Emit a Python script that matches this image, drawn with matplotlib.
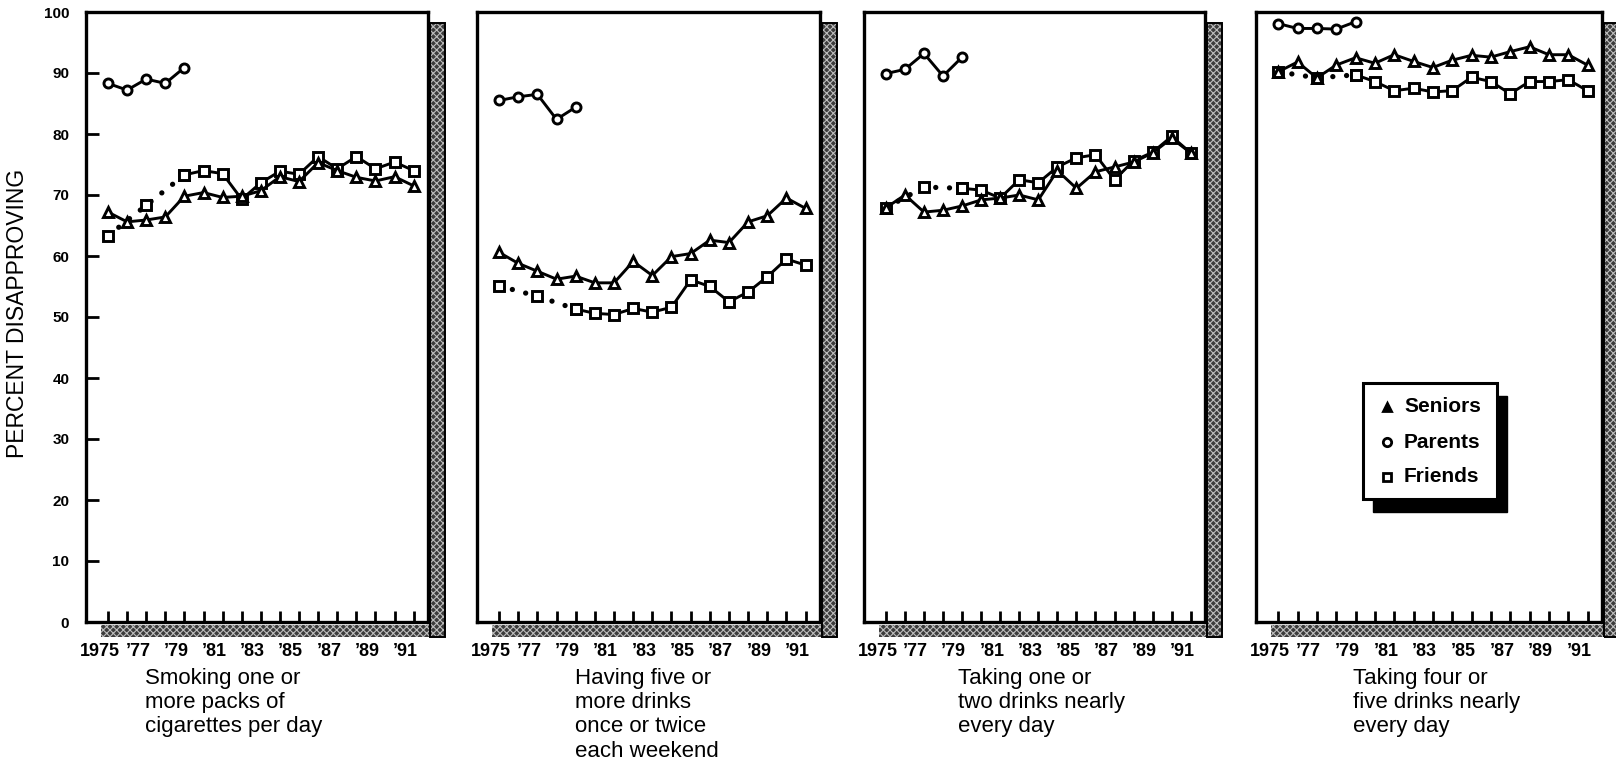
import numpy as np
import matplotlib
matplotlib.use("Agg")
import matplotlib.pyplot as plt
from matplotlib.patches import Rectangle
from matplotlib.lines import Line2D

plt.rcParams['font.family'] = ['Liberation Sans', 'DejaVu Sans']
plt.rcParams['hatch.linewidth'] = 0.8

nan = np.nan
years = list(range(1975, 1992))
parent_years = years[:5]
label_years = list(range(1975, 1992, 2))
year_labels = ['1975', '\u201977', '\u201979', '\u201981', '\u201983',
               '\u201985', '\u201987', '\u201989', '\u201991']

# Smoking one or more packs of cigarettes per day
smoke_seniors = [67.2, 65.6, 65.9, 66.4, 69.8, 70.4, 69.6, 69.8, 70.7, 73.0,
                 72.2, 75.3, 74.0, 72.9, 72.3, 73.0, 71.5]
smoke_parents = [88.3, 87.2, 89.0, 88.3, 90.9]
smoke_friends = [63.3, nan, 68.3, nan, 73.3, 74.0, 73.5, 69.3, 72.0, 73.9,
                 73.4, 76.3, 74.3, 76.3, 74.3, 75.4, 74.0]

# Having five or more drinks once or twice each weekend
binge_seniors = [60.6, 58.8, 57.5, 56.2, 56.7, 55.6, 55.6, 59.1, 56.8, 59.9,
                 60.4, 62.6, 62.2, 65.6, 66.6, 69.5, 67.8]
binge_parents = [85.5, 86.1, 86.5, 82.4, 84.4]
binge_friends = [55.1, nan, 53.4, nan, 51.3, 50.6, 50.4, 51.4, 50.8, 51.6,
                 56.1, 55.0, 52.5, 54.1, 56.6, 59.5, 58.5]

# Taking one or two drinks nearly every day
daily12_seniors = [67.9, 70.0, 67.2, 67.5, 68.2, 69.2, 69.5, 70.0, 69.2, 74.0,
                   71.1, 73.8, 74.6, 75.4, 76.9, 79.3, 76.9]
daily12_parents = [89.9, 90.6, 93.2, 89.5, 92.6]
daily12_friends = [67.9, nan, 71.3, nan, 71.1, 70.8, 69.5, 72.5, 72.0, 74.6,
                   76.1, 76.6, 72.5, 75.6, 77.0, 79.6, 76.9]

# Taking four or five drinks nearly every day
daily45_seniors = [90.2, 91.8, 89.2, 91.3, 92.5, 91.6, 93.0, 91.9, 90.9, 92.1,
                   92.9, 92.6, 93.5, 94.3, 93.0, 93.0, 91.3]
daily45_parents = [98.1, 97.3, 97.3, 97.2, 98.4]
daily45_friends = [90.2, nan, 89.2, nan, 89.7, 88.6, 87.1, 87.5, 86.9, 87.1,
                   89.3, 88.6, 86.6, 88.6, 88.6, 88.9, 87.1]

captions = [
    "Smoking one or\nmore packs of\ncigarettes per day",
    "Having five or\nmore drinks\nonce or twice\neach weekend",
    "Taking one or\ntwo drinks nearly\nevery day",
    "Taking four or\nfive drinks nearly\nevery day",
]
panels = [
    (smoke_seniors, smoke_parents, smoke_friends),
    (binge_seniors, binge_parents, binge_friends),
    (daily12_seniors, daily12_parents, daily12_friends),
    (daily45_seniors, daily45_parents, daily45_friends),
]

W, H = 1616, 768
fig = plt.figure(figsize=(W / 100, H / 100), dpi=100)


def fx(px):
    return px / W


def fy(py):
    return 1 - py / H


# pixel frame of each panel: left, right, top, bottom
frames = [(86, 428, 12, 622), (477, 820, 12, 622),
          (864, 1205, 12, 622), (1256, 1602, 12, 622)]
caption_x = [145, 575, 958, 1353]

mk = dict(color='black', lw=2.1, mfc='white', mec='black', mew=2.1)

for i, ((l, r, t, b), (sen, par, fri)) in enumerate(zip(frames, panels)):
    ax = fig.add_axes([fx(l), fy(b), fx(r - l), (b - t) / H])
    x = np.array(years)
    f = np.array(fri)
    known = ~np.isnan(f)
    early = known & (x <= 1979)
    late = known & (x >= 1979)

    # dotted connection across the years without friends data
    ax.plot(x[early], f[early], ls=(0, (0.01, 2.6)), lw=3.8, color='black',
            dash_capstyle='round', zorder=2)
    ax.plot(x[late], f[late], '-', marker='s', ms=6.5, zorder=3, **mk)
    ax.plot(x[early], f[early], ls='none', marker='s', ms=6.5, zorder=3, **mk)
    ax.plot(x, sen, '-', marker='^', ms=7.5, zorder=4, **mk)
    ax.plot(parent_years, par, '-', marker='o', ms=6.5, zorder=4, **mk)

    ax.set_xlim(1973.85, 1991.75)
    ax.set_ylim(0, 100)
    ax.set_xticks(years)
    ax.set_xticklabels([])
    ax.tick_params(axis='x', direction='in', length=8, width=2.0)
    # year labels sit a little left of their tick marks
    for yr, lab in zip(label_years, year_labels):
        ax.annotate(lab, (yr, 0), xycoords=('data', 'axes fraction'),
                    xytext=(-6, -15), textcoords='offset points',
                    ha='center', va='top', fontsize=13, fontweight='bold',
                    annotation_clip=False)
    if i == 0:
        ax.set_yticks(range(0, 101, 10))
        ax.set_yticklabels([str(v) for v in range(0, 101, 10)],
                           fontsize=11, fontweight='bold')
        ax.tick_params(axis='y', direction='in', length=9, width=2.0, pad=12)
    else:
        ax.set_yticks([])
    for s in ax.spines.values():
        s.set_linewidth(2.4)
        s.set_color('black')

    # textured drop shadow along the right and bottom edges
    sh = dict(facecolor='#3c3c3c', edgecolor='#bdbdbd', hatch='xxxxx', lw=0,
              transform=fig.transFigure, figure=fig)
    fig.patches.append(Rectangle((fx(r + 2), fy(b + 15)), fx(15), (b + 15 - 23) / H, **sh))
    fig.patches.append(Rectangle((fx(l + 15), fy(b + 15)), fx(r + 17 - l - 15), 12 / H, **sh))
    fig.patches.append(Rectangle((fx(r + 2), fy(b + 15)), fx(15), (b + 15 - 23) / H,
                                 facecolor='none', edgecolor='black', lw=1.4,
                                 transform=fig.transFigure, figure=fig))

    fig.text(fx(caption_x[i]), fy(668), captions[i], ha='left', va='top',
             fontsize=16, linespacing=1.2)

fig.text(fx(18), fy(313), 'PERCENT DISAPPROVING', rotation=90,
         ha='center', va='center', fontsize=16.5)

# legend box with solid drop shadow
lx0, ly0, lx1, ly1 = 1363, 383, 1497, 499
fig.patches.append(Rectangle((fx(lx0 + 10), fy(ly1 + 13)), fx(lx1 - lx0), (ly1 - ly0) / H,
                             facecolor='black', edgecolor='black',
                             transform=fig.transFigure, figure=fig))
fig.patches.append(Rectangle((fx(lx0), fy(ly1)), fx(lx1 - lx0), (ly1 - ly0) / H,
                             facecolor='white', edgecolor='black', lw=2.2,
                             transform=fig.transFigure, figure=fig))
legend_items = [('Seniors', '^', 'black', 407), ('Parents', 'o', 'white', 442),
                ('Friends', 's', 'white', 477)]
for name, m, fc, yy in legend_items:
    fig.add_artist(Line2D([fx(1387)], [fy(yy)], marker=m, ms=6, mfc=fc, mec='black',
                          mew=2.0, ls='none', transform=fig.transFigure))
    fig.text(fx(1404), fy(yy), name, ha='left', va='center', fontsize=15,
             fontweight='bold')

fig.savefig('out.png', dpi=100, facecolor='white')
